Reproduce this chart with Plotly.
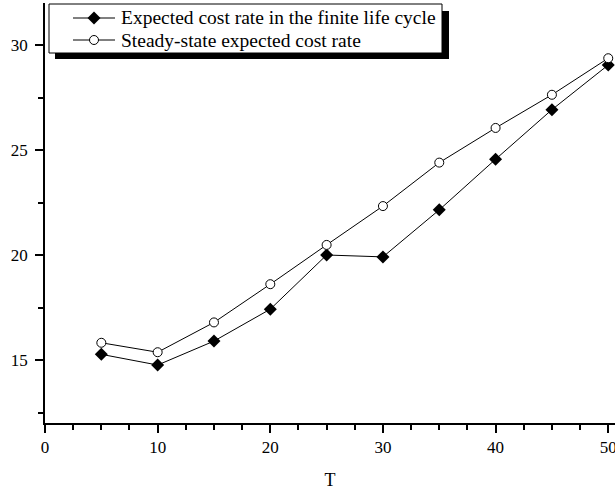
import plotly.graph_objects as go

T = [5, 10, 15, 20, 25, 30, 35, 40, 45, 50]
finite_cost = [15.27, 14.76, 15.90, 17.42, 20.00, 19.91, 22.15, 24.56, 26.92, 29.05]
steady_cost = [15.82, 15.37, 16.79, 18.61, 20.48, 22.33, 24.40, 26.05, 27.63, 29.37]
finite_name = "Expected cost rate in the finite life cycle"
steady_name = "Steady-state expected cost rate"
x_title = "T"

W, H = 615, 490
L, R, TOP, B = 45, 0, 3, 67
pw, ph = W - L - R, H - TOP - B

def px_x(p):
    return (p - L) / pw

def px_y(p):
    return 1 - (p - TOP) / ph

font = "Liberation Serif"
diamond = dict(symbol="diamond", size=10, color="black")
circle = dict(symbol="circle", size=9, color="white", line=dict(color="black", width=1))

fig = go.Figure()
fig.add_trace(go.Scatter(
    x=T, y=finite_cost, name=finite_name, mode="lines+markers",
    line=dict(color="black", width=1), marker=diamond, cliponaxis=False,
))
fig.add_trace(go.Scatter(
    x=T, y=steady_cost, name=steady_name, mode="lines+markers",
    line=dict(color="black", width=1), marker=circle, cliponaxis=False,
))

# custom legend (shadow, box, line samples, markers, text)
leg_left, leg_right, leg_top, leg_bot = 49, 442, 4, 53
rows = [18, 40]
fig.add_shape(type="rect", xref="paper", yref="paper",
              x0=px_x(leg_left + 6), x1=px_x(leg_right + 7),
              y0=px_y(leg_bot + 6), y1=px_y(leg_top + 7),
              fillcolor="black", line=dict(width=0), layer="below")
fig.add_shape(type="rect", xref="paper", yref="paper",
              x0=px_x(leg_left), x1=px_x(leg_right),
              y0=px_y(leg_bot), y1=px_y(leg_top),
              fillcolor="white", line=dict(color="black", width=1), layer="below")
for r in rows:
    fig.add_shape(type="line", xref="paper", yref="paper",
                  x0=px_x(73), x1=px_x(115), y0=px_y(r), y1=px_y(r),
                  line=dict(color="black", width=1), layer="below")
fig.add_trace(go.Scatter(x=[px_x(94)], y=[px_y(rows[0])], xaxis="x2", yaxis="y2",
                         mode="markers", marker=diamond, showlegend=False, hoverinfo="skip",
                         cliponaxis=False))
fig.add_trace(go.Scatter(x=[px_x(94)], y=[px_y(rows[1])], xaxis="x2", yaxis="y2",
                         mode="markers", marker=circle, showlegend=False, hoverinfo="skip",
                         cliponaxis=False))
for r, name in zip(rows, [finite_name, steady_name]):
    fig.add_annotation(xref="paper", yref="paper", x=px_x(119), y=px_y(r),
                       xanchor="left", yanchor="middle", text=name, showarrow=False,
                       font=dict(family=font, size=19.5, color="black"))

axis_common = dict(
    showline=True, linecolor="black", linewidth=1.5, mirror=False,
    ticks="outside", ticklen=8, tickwidth=1.5, tickcolor="black",
    showgrid=False, zeroline=False, automargin=False, ticklabeloverflow="allow",
    tickfont=dict(family=font, size=17, color="black"),
)
fig.update_xaxes(range=[0, 50.6], dtick=10, tick0=0,
                 minor=dict(dtick=2.5, ticks="outside", ticklen=5, tickwidth=1.5, tickcolor="black"),
                 title=dict(text=x_title, font=dict(family=font, size=18, color="black"), standoff=17),
                 **axis_common)
fig.update_yaxes(range=[12, 32], dtick=5, tick0=0,
                 minor=dict(dtick=2.5, ticks="outside", ticklen=5, tickwidth=1.5, tickcolor="black"),
                 ticklabelstandoff=4,
                 **axis_common)

fig.update_layout(
    width=W, height=H,
    margin=dict(l=L, r=R, t=TOP, b=B, pad=0),
    paper_bgcolor="white", plot_bgcolor="white",
    font=dict(family=font, size=16, color="black"),
    showlegend=False,
    xaxis2=dict(range=[0, 1], overlaying="x", visible=False, automargin=False),
    yaxis2=dict(range=[0, 1], overlaying="y", visible=False, automargin=False),
)

fig.write_html("out.html", config={"displayModeBar": False},
               post_script="document.body.style.margin='0';document.body.style.overflow='hidden';")
